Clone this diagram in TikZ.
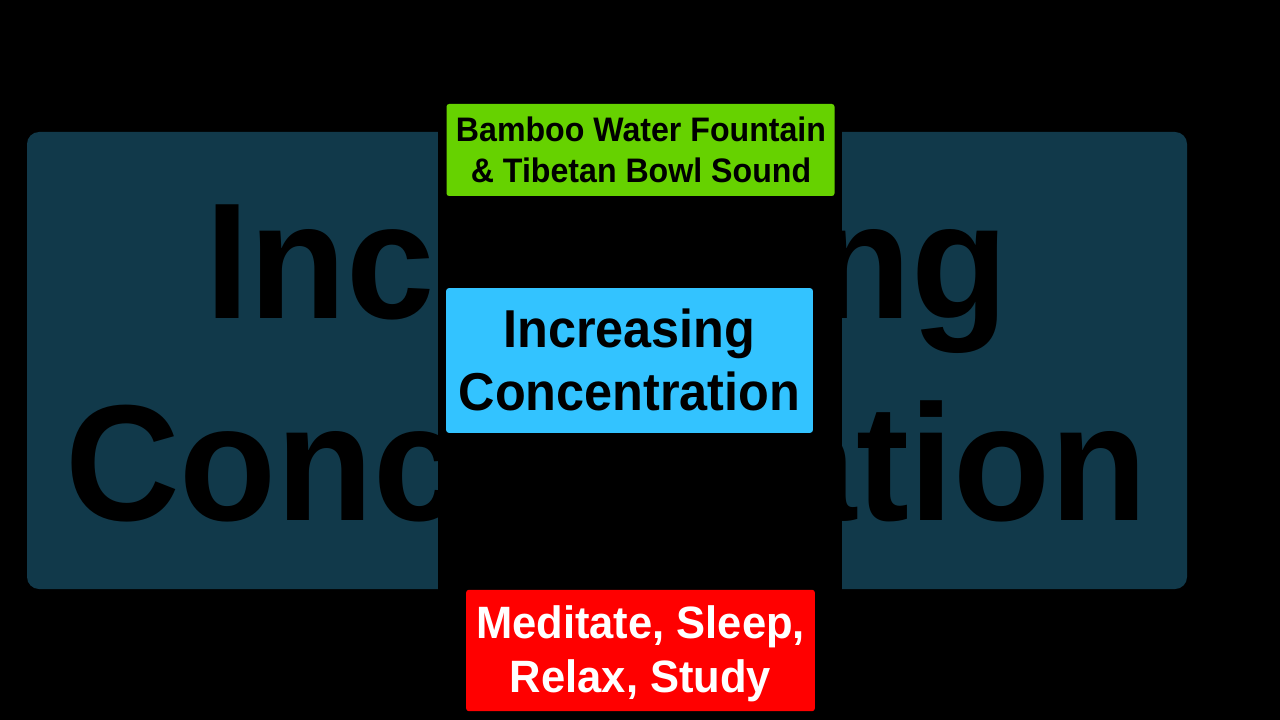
\documentclass[tikz,border=0pt]{standalone}
\usepackage{fontspec}
\setmainfont{Liberation Sans}
\newfontfamily\rb{Liberation Sans}[FakeStretch=0.96]
\newfontfamily\rbw{Liberation Sans}[FakeStretch=0.945]
\definecolor{bgteal}{HTML}{11394A}
\definecolor{gbox}{HTML}{66D200}
\definecolor{bbox}{HTML}{33C3FF}
\definecolor{rbox}{HTML}{FF0000}
\tikzset{
  lbl/.style={align=center,inner sep=0pt},
  boxbase/.style={rounded corners=2pt,inner sep=0pt},
  bigtxt/.style={text=black,inner sep=0pt,font=\rb\bfseries\fontsize{124}{124}\selectfont},
}
\begin{document}
\begin{tikzpicture}[x=0.75pt,y=-0.75pt]
\useasboundingbox (0,0) rectangle (1280,720);
\fill[black] (0,0) rectangle (1280,720);
\fill[bgteal,rounded corners=9pt] (27,132) rectangle (1187,589);
\node[bigtxt,anchor=base west] (bg1) at (205,318) {Inc};
\node[bigtxt,anchor=base east] (bg2) at (1009,318) {ng};
\node[bigtxt,anchor=base west] (bg3) at (65,520) {Conc};
\node[bigtxt,anchor=base east] (bg4) at (1148,520) {ation};
\fill[black] (438,0) rectangle (842,720);
\node[boxbase,fill=gbox,minimum width=291pt,minimum height=69pt] (top) at (640.5,150) {};
\node[lbl,text=black,font=\rbw\bfseries\fontsize{25.5}{30.5}\selectfont] (toptext) at (641,150) {Bamboo Water Fountain\\ \& Tibetan Bowl Sound};
\node[boxbase,fill=bbox,minimum width=275pt,minimum height=108.5pt] (mid) at (629.5,360.5) {};
\node[lbl,text=black,font=\rbw\bfseries\fontsize{40}{47.5}\selectfont] (midtext) at (629.5,360) {Increasing\\ Concentration};
\node[boxbase,fill=rbox,minimum width=261.5pt,minimum height=91pt] (bot) at (640.5,650.5) {};
\node[lbl,text=white,font=\rb\bfseries\fontsize{34}{40.5}\selectfont] (bottext) at (640.5,654) {Meditate, Sleep,\\ Relax, Study};
\end{tikzpicture}
\end{document}
